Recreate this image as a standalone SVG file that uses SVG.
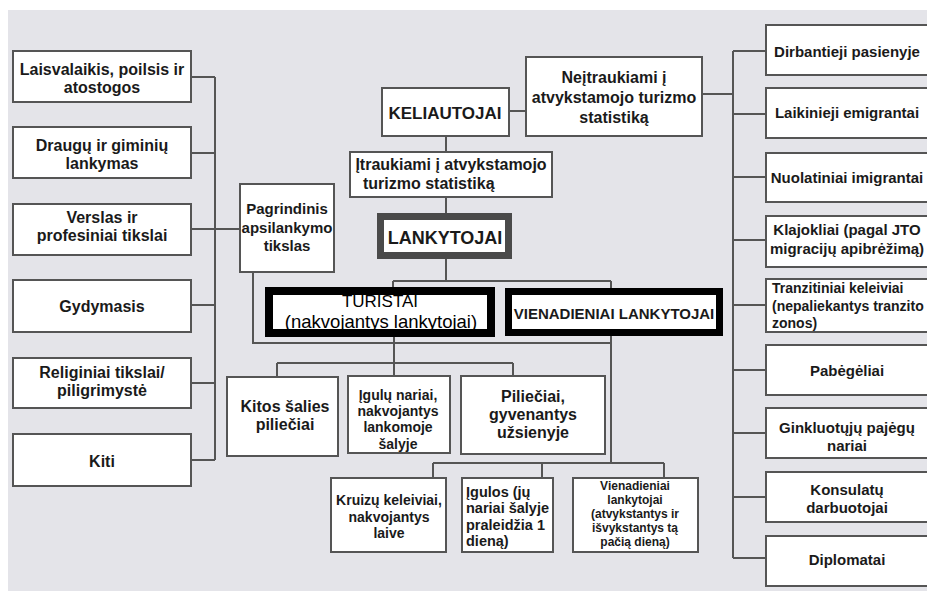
<svg xmlns="http://www.w3.org/2000/svg" width="927" height="591" viewBox="0 0 927 591">
<style>
.bx{fill:#fff;stroke:#555;stroke-width:2}
.ln{fill:none;stroke:#555;stroke-width:2}
text{font-family:"Liberation Sans",Arial,sans-serif;font-weight:bold;fill:#1a1a1a;text-anchor:middle}
.l16{font-size:16px}
.r15{font-size:15px}
.s14{font-size:14.5px}
.s12{font-size:12px}
.reg{font-weight:normal}
.st{text-anchor:start}
</style>
<rect x="0" y="0" width="927" height="591" fill="#fff"/>
<rect x="8" y="10" width="919" height="581" fill="#e4e4e9"/>

<g id="connectors">
  <path class="ln" d="M191,77H215M191,153H215M191,229H240M191,305H215M191,383H215M191,460H215M215,77V460"/>
  <path class="ln" d="M253,272V343H611"/>
  <path class="ln" d="M509,111H526"/>
  <path class="ln" d="M702,94H733M733,51V558M733,51H766M733,114H766M733,177H766M733,240H766M733,305H766M733,370H766M733,433H766M733,497H766M733,558H766"/>
  <path class="ln" d="M446,136V152M446,197V213M446,259V281M393,281H611M393,281V287M611,281V463"/>
  <path class="ln" d="M394,337V376M277,363H513M277,363V377M513,363V376"/>
  <path class="ln" d="M433,463H664M433,463V478M542,463V478M664,463V478"/>
</g>

<g id="n-laisvalaikis"><rect class="bx" x="13" y="51" width="178" height="51"/><text class="l16" x="102" y="75">Laisvalaikis, poilsis ir</text><text class="l16" x="102" y="93">atostogos</text></g>
<g id="n-draugu"><rect class="bx" x="13" y="127" width="178" height="51"/><text class="l16" x="102" y="151">Draugų ir giminių</text><text class="l16" x="102" y="169">lankymas</text></g>
<g id="n-verslas"><rect class="bx" x="13" y="204" width="178" height="51"/><text class="l16" x="102" y="223">Verslas ir</text><text class="l16" x="102" y="241">profesiniai tikslai</text></g>
<g id="n-gydymasis"><rect class="bx" x="13" y="280" width="178" height="52"/><text class="l16" x="102" y="312">Gydymasis</text></g>
<g id="n-religiniai"><rect class="bx" x="13" y="358" width="178" height="50"/><text class="l16" x="102" y="378">Religiniai tikslai/</text><text class="l16" x="102" y="396">piligrimystė</text></g>
<g id="n-kiti"><rect class="bx" x="13" y="434" width="178" height="52"/><text class="l16" x="102" y="467">Kiti</text></g>

<g id="n-pagrindinis"><rect class="bx" x="240" y="184" width="94" height="88"/><text class="r15" x="287" y="214">Pagrindinis</text><text class="r15" x="287" y="233">apsilankymo</text><text class="r15" x="287" y="251">tikslas</text></g>

<g id="n-keliautojai"><rect class="bx" x="382" y="88" width="127" height="48"/><text x="445" y="119" style="font-size:17px">KELIAUTOJAI</text></g>
<g id="n-neitraukiami"><rect class="bx" x="526" y="57" width="176" height="79"/><text class="l16" x="614" y="83">Neįtraukiami į</text><text class="l16" x="614" y="103">atvykstamojo turizmo</text><text class="l16" x="614" y="123">statistiką</text></g>
<g id="n-itraukiami"><rect class="bx" x="350" y="152" width="202" height="45"/><text class="l16" x="451" y="170">Įtraukiami į atvykstamojo</text><text class="l16 st" x="363" y="189">turizmo statistiką</text></g>
<g id="n-lankytojai"><rect x="380.5" y="216.5" width="128" height="39" fill="#fff" stroke="#4a4a4a" stroke-width="7"/><text x="445" y="243.5" style="font-size:18px">LANKYTOJAI</text></g>

<g id="n-turistai"><rect x="269" y="291" width="222" height="42" fill="#fff"/><text class="reg" x="380" y="307" style="font-size:17px;fill:#000">TURISTAI</text><text class="reg" x="381" y="328" style="font-size:18.5px;fill:#000">(nakvojantys lankytojai)</text><rect x="269" y="291" width="222" height="42" fill="none" stroke="#000" stroke-width="8"/></g>
<g id="n-vienadieniai"><rect x="508.5" y="291.5" width="211" height="41" fill="#fff" stroke="#000" stroke-width="7"/><text x="614" y="318.5" style="font-size:15px">VIENADIENIAI LANKYTOJAI</text></g>

<g id="n-kitos"><rect class="bx" x="227" y="377" width="111" height="79"/><text class="l16" x="285" y="412">Kitos šalies</text><text class="l16" x="285" y="430">piliečiai</text></g>
<g id="n-igulu"><rect class="bx" x="348" y="376" width="102" height="77"/><text x="398" y="400" style="font-size:14px">Įgulų nariai,</text><text x="398" y="416.2" style="font-size:14px">nakvojantys</text><text x="398" y="432.4" style="font-size:14px">lankomoje</text><text x="398" y="448.6" style="font-size:14px">šalyje</text></g>
<g id="n-pilieciai"><rect class="bx" x="461" y="376" width="144" height="78"/><text class="l16" x="533" y="402">Piliečiai,</text><text class="l16" x="533" y="420">gyvenantys</text><text class="l16" x="533" y="438">užsienyje</text></g>

<g id="n-kruizu"><rect class="bx" x="331" y="478" width="115" height="74"/><text x="389" y="505" style="font-size:14px">Kruizų keleiviai,</text><text x="389" y="522" style="font-size:14px">nakvojantys</text><text x="389" y="538" style="font-size:14px">laive</text></g>
<g id="n-igulos"><rect class="bx" x="462" y="478" width="91" height="74"/><text class="s14 st" x="466" y="497">Įgulos (jų</text><text class="s14 st" x="466" y="513">nariai šalyje</text><text class="s14 st" x="466" y="530">praleidžia 1</text><text class="s14 st" x="466" y="546">dieną)</text></g>
<g id="n-vienad-lank"><rect class="bx" x="573" y="478" width="125" height="74"/><text class="s12" x="635" y="490">Vienadieniai</text><text class="s12" x="635" y="504">lankytojai</text><text class="s12" x="635" y="518">(atvykstantys ir</text><text class="s12" x="635" y="532">išvykstantys tą</text><text class="s12" x="635" y="546">pačią dieną)</text></g>

<g id="n-dirbantieji"><rect class="bx" x="766" y="25" width="162" height="50"/><text class="r15" x="847" y="56.5">Dirbantieji pasienyje</text></g>
<g id="n-laikinieji"><rect class="bx" x="766" y="88" width="162" height="50"/><text class="r15" x="847" y="118">Laikinieji emigrantai</text></g>
<g id="n-nuolatiniai"><rect class="bx" x="766" y="153" width="162" height="49"/><text class="r15" x="847" y="183">Nuolatiniai imigrantai</text></g>
<g id="n-klajokliai"><rect class="bx" x="766" y="216" width="162" height="51"/><text class="r15" x="847" y="235">Klajokliai (pagal JTO</text><text class="r15" x="847" y="254">migracijų apibrėžimą)</text></g>
<g id="n-tranzitiniai"><rect class="bx" x="766" y="279" width="162" height="53"/><text class="st" x="772" y="293" style="font-size:14px">Tranzitiniai keleiviai</text><text class="st" x="772" y="311" style="font-size:14px">(nepaliekantys tranzito</text><text class="st" x="772" y="328" style="font-size:14px">zonos)</text></g>
<g id="n-pabegeliai"><rect class="bx" x="766" y="345" width="162" height="50"/><text class="r15" x="847" y="375.5">Pabėgėliai</text></g>
<g id="n-ginkluotuju"><rect class="bx" x="766" y="408" width="162" height="50"/><text class="r15" x="847" y="433">Ginkluotųjų pajėgų</text><text class="r15" x="847" y="451">nariai</text></g>
<g id="n-konsulatu"><rect class="bx" x="766" y="472" width="162" height="50"/><text class="r15" x="847" y="495">Konsulatų</text><text class="r15" x="847" y="513">darbuotojai</text></g>
<g id="n-diplomatai"><rect class="bx" x="766" y="536" width="162" height="50"/><text class="r15" x="847" y="565">Diplomatai</text></g>
</svg>
